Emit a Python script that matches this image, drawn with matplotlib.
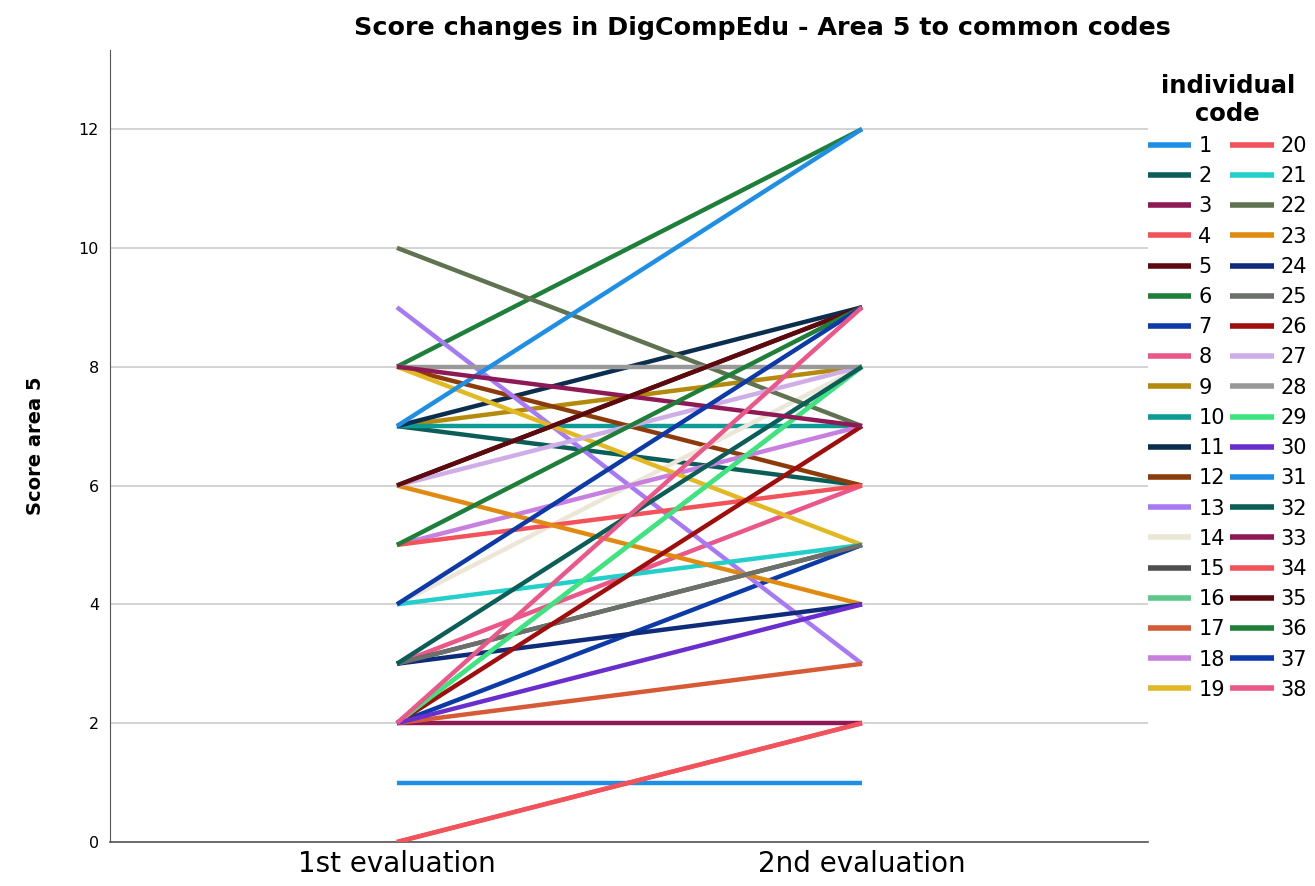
import matplotlib
matplotlib.use("Agg")
import matplotlib.pyplot as plt

# --- data: score in area 5 at each evaluation, by individual code ---
codes = list(range(1, 39))
evaluations = ["1st evaluation", "2nd evaluation"]

first = [1, 7, 2, 0, 6, 8, 2, 3, 7, 7,
         7, 8, 9, 4, 3, 2, 2, 5, 8, 5,
         4, 10, 6, 3, 3, 2, 6, 8, 2, 2,
         7, 3, 8, 0, 6, 5, 4, 2]
second = [1, 6, 2, 2, 9, 12, 5, 6, 8, 7,
          9, 6, 3, 8, 5, 8, 3, 7, 5, 6,
          5, 7, 4, 4, 5, 7, 8, 8, 8, 4,
          12, 8, 7, 2, 9, 9, 9, 9]

colors = ["#1f8fe6", "#0b5e58", "#8e1a55", "#f2525a", "#5c0a0e",
          "#1e7f3a", "#0c3aa8", "#ea5788", "#b38a0b", "#0e9a95",
          "#0b2d4e", "#8c3c0a", "#a77af5", "#ece6d6", "#4e4e4e",
          "#5cc98b", "#d65a35", "#c77fe0", "#e2b922", "#f2525a",
          "#22cfc9", "#5f7350", "#e08a10", "#0e2c7a", "#6c706b",
          "#a00d0d", "#cfaee8", "#999999", "#3de57f", "#6a2ecd",
          "#1f8fe6", "#0b5e58", "#8e1a55", "#f2525a", "#5c0a0e",
          "#1e7f3a", "#0c3aa8", "#ea5788"]

fig = plt.figure(figsize=(13.15, 8.86), dpi=100)
ax = fig.add_axes([110 / 1315, 44 / 886, 1038 / 1315, 792 / 886])

x = [0, 1]
for code, a, b, c in zip(codes, first, second, colors):
    ax.plot(x, [a, b], color=c, lw=3.2, label=str(code),
            solid_capstyle="butt", zorder=3)

ax.set_xlim(-0.617, 1.615)
ax.set_ylim(0, 13.33)
ax.set_xticks(x)
ax.set_xticklabels(evaluations, fontsize=20)
ax.set_yticks(range(0, 13, 2))
ax.tick_params(axis="y", labelsize=11.5, length=0, pad=8)
ax.tick_params(axis="x", length=0, pad=6)
ax.grid(axis="y", color="#cccccc", lw=1.2, zorder=0)
ax.set_axisbelow(True)

for s in ["top", "right"]:
    ax.spines[s].set_visible(False)
ax.spines["left"].set_color("#555555")
ax.spines["left"].set_linewidth(0.8)
ax.spines["bottom"].set_color("#555555")
ax.spines["bottom"].set_linewidth(1.2)

ax.set_ylabel("Score area 5", fontsize=14, fontweight="bold", labelpad=24)
fig.text(762 / 1315, 1 - 28 / 886,
         "Score changes in DigCompEdu - Area 5 to common codes",
         ha="center", va="center", fontsize=18.3, fontweight="bold")

leg = ax.legend(ncol=2, loc="upper left", bbox_to_anchor=(1148 / 1315, 1 - 74 / 886),
                bbox_transform=fig.transFigure, frameon=False,
                title="individual\ncode", fontsize=15,
                handlelength=2.07, handletextpad=0.34, columnspacing=0.27,
                labelspacing=0.49, borderaxespad=0, borderpad=0)
leg.get_title().set_fontweight("bold")
leg.get_title().set_fontsize(17.5)
leg.get_title().set_multialignment("center")
for line in leg.get_lines():
    line.set_linewidth(4)

fig.savefig("out.png", dpi=100)
